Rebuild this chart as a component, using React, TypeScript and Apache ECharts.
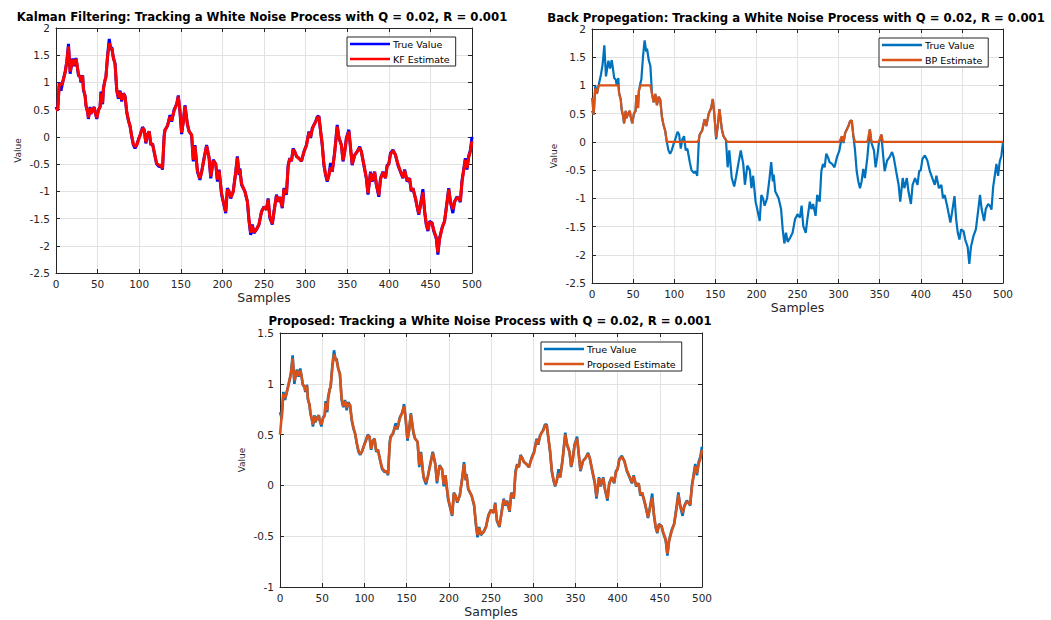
import React, { useEffect, useRef } from "react";
import * as echarts from "echarts";

// Sample index of every stored point (shared by all series).
const samples = [
  0, 2, 4, 6, 8, 11, 13, 15, 17, 19,
  20, 22, 24, 25, 27, 29, 30, 32, 33, 35,
  36, 38, 39, 41, 42, 44, 46, 47, 49, 51,
  53, 54, 56, 57, 59, 60, 62, 64, 66, 67,
  69, 71, 73, 75, 77, 79, 81, 83, 85, 87,
  89, 91, 93, 95, 97, 99, 101, 104, 106, 108,
  110, 112, 114, 116, 119, 121, 124, 126, 128, 130,
  131, 134, 137, 139, 142, 145, 147, 149, 151, 153,
  155, 158, 160, 163, 165, 167, 170, 173, 175, 178,
  181, 184, 186, 189, 192, 194, 196, 199, 201, 204,
  206, 208, 210, 213, 216, 218, 220, 221, 223, 227,
  230, 232, 234, 236, 238, 241, 244, 247, 250, 253,
  255, 257, 260, 262, 265, 267, 269, 272, 274, 277,
  279, 281, 283, 285, 287, 289, 292, 295, 298, 301,
  304, 306, 308, 310, 312, 314, 316, 318, 320, 322,
  324, 326, 328, 330, 332, 335, 338, 340, 343, 345,
  347, 349, 352, 354, 356, 359, 362, 365, 367, 370,
  373, 375, 378, 380, 383, 385, 388, 390, 393, 396,
  398, 400, 402, 405, 408, 411, 414, 417, 419, 422,
  425, 427, 429, 432, 434, 436, 438, 441, 443, 445,
  447, 449, 452, 454, 457, 459, 461, 464, 467, 470,
  472, 474, 477, 479, 482, 484, 486, 488, 490, 492,
  494, 496, 498, 500,
];

// White-noise driven random walk (true state), Q = 0.02, R = 0.001.
const trueValue = [
  0.55, 0.48, 1.0, 0.85, 1.0, 1.2, 1.38, 1.71, 1.16, 1.35,
  1.44, 1.3, 1.45, 1.35, 1.13, 1.1, 1.0, 1.13, 0.86, 0.75,
  0.58, 0.45, 0.33, 0.55, 0.42, 0.5, 0.55, 0.45, 0.33, 0.5,
  0.55, 0.83, 0.6, 0.9, 1.05, 1.1, 1.5, 1.8, 1.6, 1.65,
  1.45, 1.35, 0.85, 0.7, 0.85, 0.65, 0.8, 0.75, 0.45, 0.3,
  0.2, 0.0, -0.15, -0.21, -0.15, -0.05, 0.03, 0.18, 0.13, -0.12,
  0.05, 0.1, -0.15, -0.12, -0.36, -0.5, -0.55, -0.52, -0.6, 0.03,
  0.13, 0.2, 0.4, 0.28, 0.5, 0.6, 0.76, 0.46, 0.05, 0.28,
  0.58, 0.22, 0.1, 0.03, -0.45, -0.15, -0.64, -0.79, -0.64, -0.39,
  -0.15, -0.39, -0.76, -0.42, -0.5, -0.82, -0.6, -1.06, -1.19, -1.4,
  -0.94, -1.0, -1.13, -1.0, -0.64, -0.36, -0.7, -0.58, -0.88, -1.0,
  -1.19, -1.55, -1.8, -1.61, -1.77, -1.7, -1.61, -1.37, -1.28, -1.34,
  -1.13, -1.49, -1.61, -1.37, -1.06, -1.19, -1.1, -1.31, -0.94, -1.06,
  -0.52, -0.39, -0.45, -0.21, -0.27, -0.36, -0.39, -0.45, -0.27, -0.15,
  0.1, -0.02, 0.16, 0.22, 0.28, 0.37, 0.38, 0.1, -0.15, -0.52,
  -0.7, -0.82, -0.7, -0.48, -0.64, -0.27, 0.22, -0.02, -0.15, -0.45,
  -0.27, -0.02, 0.13, -0.21, -0.52, -0.33, -0.27, -0.18, -0.27, -0.52,
  -0.76, -1.06, -0.64, -0.82, -0.64, -0.88, -1.1, -0.76, -0.64, -0.76,
  -0.52, -0.5, -0.3, -0.24, -0.33, -0.52, -0.64, -0.76, -0.6, -0.82,
  -0.76, -1.0, -0.94, -1.13, -1.28, -1.43, -1.25, -0.96, -1.37, -1.61,
  -1.73, -1.55, -1.58, -1.73, -1.86, -2.16, -1.86, -1.67, -1.55, -1.19,
  -0.94, -1.19, -1.4, -1.19, -1.1, -1.13, -1.2, -0.8, -0.6, -0.39,
  -0.6, -0.35, -0.25, 0.0,
];

const kfEstimate = [
  0.5, 0.5, 0.98, 0.95, 1.0, 1.18, 1.38, 1.66, 1.2, 1.35,
  1.42, 1.32, 1.43, 1.36, 1.15, 1.1, 1.02, 1.12, 0.88, 0.76,
  0.58, 0.46, 0.35, 0.53, 0.43, 0.5, 0.54, 0.46, 0.35, 0.49,
  0.55, 0.8, 0.62, 0.88, 1.04, 1.1, 1.47, 1.72, 1.62, 1.63,
  1.45, 1.33, 0.88, 0.72, 0.83, 0.68, 0.79, 0.74, 0.47, 0.31,
  0.2, 0.02, -0.13, -0.18, -0.15, -0.06, 0.03, 0.16, 0.13, -0.1,
  0.04, 0.1, -0.13, -0.13, -0.34, -0.49, -0.52, -0.52, -0.58, 0.0,
  0.12, 0.21, 0.37, 0.3, 0.48, 0.6, 0.74, 0.48, 0.08, 0.27,
  0.56, 0.24, 0.1, 0.04, -0.42, -0.17, -0.62, -0.76, -0.65, -0.4,
  -0.17, -0.38, -0.73, -0.44, -0.5, -0.78, -0.62, -1.03, -1.18, -1.37,
  -0.97, -1.0, -1.11, -1.01, -0.66, -0.38, -0.68, -0.6, -0.86, -1.0,
  -1.18, -1.52, -1.76, -1.63, -1.75, -1.7, -1.6, -1.38, -1.29, -1.33,
  -1.15, -1.46, -1.59, -1.38, -1.08, -1.18, -1.11, -1.29, -0.96, -1.04,
  -0.55, -0.4, -0.44, -0.23, -0.28, -0.35, -0.4, -0.44, -0.28, -0.16,
  0.08, 0.0, 0.14, 0.22, 0.27, 0.35, 0.37, 0.12, -0.13, -0.5,
  -0.68, -0.8, -0.71, -0.56, -0.63, -0.29, 0.19, 0.0, -0.15, -0.43,
  -0.28, -0.04, 0.1, -0.19, -0.5, -0.34, -0.27, -0.2, -0.27, -0.5,
  -0.75, -1.03, -0.66, -0.8, -0.65, -0.86, -1.07, -0.78, -0.65, -0.75,
  -0.54, -0.5, -0.32, -0.25, -0.33, -0.5, -0.63, -0.75, -0.62, -0.8,
  -0.77, -0.98, -0.95, -1.12, -1.27, -1.41, -1.27, -1.02, -1.35, -1.59,
  -1.71, -1.57, -1.58, -1.71, -1.84, -2.12, -1.88, -1.68, -1.55, -1.22,
  -0.96, -1.17, -1.33, -1.2, -1.11, -1.13, -1.18, -0.83, -0.62, -0.42,
  -0.57, -0.38, -0.27, -0.08,
];

const bpEstimate = [
  0.78, 0.48, 0.95, 0.85, 1, 1, 1, 1, 1, 1,
  1, 1, 1, 1, 1, 1, 1, 1, 0.86, 0.75,
  0.58, 0.45, 0.33, 0.55, 0.42, 0.5, 0.55, 0.45, 0.33, 0.5,
  0.55, 0.83, 0.6, 0.9, 1, 1, 1, 1, 1, 1,
  1, 1, 0.85, 0.7, 0.85, 0.65, 0.8, 0.75, 0.45, 0.3,
  0.2, 0, 0, 0, 0, 0, 0, 0, 0, 0,
  0, 0, 0, 0, 0, 0, 0, 0, 0, 0.03,
  0.13, 0.2, 0.4, 0.28, 0.5, 0.6, 0.76, 0.46, 0.08, 0.28,
  0.58, 0.22, 0.1, 0.03, 0, 0, 0, 0, 0, 0,
  0, 0, 0, 0, 0, 0, 0, 0, 0, 0,
  0, 0, 0, 0, 0, 0, 0, 0, 0, 0,
  0, 0, 0, 0, 0, 0, 0, 0, 0, 0,
  0, 0, 0, 0, 0, 0, 0, 0, 0, 0,
  0, 0, 0, 0, 0, 0, 0, 0, 0, 0,
  0.1, 0, 0.16, 0.22, 0.28, 0.37, 0.38, 0.1, 0, 0,
  0, 0, 0, 0, 0, 0, 0.22, 0, 0, 0,
  0, 0, 0.13, 0, 0, 0, 0, 0, 0, 0,
  0, 0, 0, 0, 0, 0, 0, 0, 0, 0,
  0, 0, 0, 0, 0, 0, 0, 0, 0, 0,
  0, 0, 0, 0, 0, 0, 0, 0, 0, 0,
  0, 0, 0, 0, 0, 0, 0, 0, 0, 0,
  0, 0, 0, 0, 0, 0, 0, 0, 0, 0,
  0, 0, 0, 0,
];

const proposedTrue = [
  0.72, 0.66, 0.92, 0.84, 0.92, 1.02, 1.11, 1.28, 1.0, 1.1,
  1.14, 1.07, 1.15, 1.1, 0.99, 0.97, 0.92, 0.99, 0.85, 0.79,
  0.71, 0.64, 0.58, 0.69, 0.62, 0.67, 0.69, 0.64, 0.58, 0.67,
  0.69, 0.83, 0.72, 0.87, 0.95, 0.97, 1.18, 1.33, 1.23, 1.25,
  1.15, 1.1, 0.84, 0.77, 0.84, 0.74, 0.82, 0.79, 0.64, 0.56,
  0.51, 0.41, 0.33, 0.3, 0.33, 0.38, 0.43, 0.5, 0.48, 0.35,
  0.44, 0.46, 0.33, 0.35, 0.23, 0.16, 0.13, 0.14, 0.1, 0.43,
  0.48, 0.51, 0.61, 0.55, 0.67, 0.72, 0.8, 0.64, 0.44, 0.55,
  0.71, 0.52, 0.46, 0.43, 0.18, 0.33, 0.08, 0.01, 0.08, 0.21,
  0.33, 0.21, 0.02, 0.2, 0.16, -0.01, 0.1, -0.13, -0.2, -0.3,
  -0.07, -0.1, -0.17, -0.1, 0.08, 0.23, 0.05, 0.11, -0.04, -0.1,
  -0.2, -0.38, -0.51, -0.41, -0.49, -0.46, -0.41, -0.29, -0.24, -0.27,
  -0.17, -0.35, -0.41, -0.29, -0.13, -0.2, -0.15, -0.26, -0.07, -0.13,
  0.14, 0.21, 0.18, 0.3, 0.27, 0.23, 0.21, 0.18, 0.27, 0.33,
  0.46, 0.4, 0.49, 0.52, 0.55, 0.6, 0.6, 0.46, 0.33, 0.14,
  0.05, -0.01, 0.05, 0.16, 0.08, 0.27, 0.52, 0.4, 0.33, 0.18,
  0.27, 0.4, 0.48, 0.3, 0.14, 0.24, 0.27, 0.32, 0.27, 0.14,
  0.02, -0.13, 0.08, -0.01, 0.08, -0.04, -0.15, 0.02, 0.08, 0.02,
  0.14, 0.16, 0.26, 0.29, 0.24, 0.14, 0.08, 0.02, 0.1, -0.01,
  0.02, -0.1, -0.07, -0.17, -0.24, -0.32, -0.23, -0.08, -0.29, -0.41,
  -0.47, -0.38, -0.4, -0.47, -0.54, -0.69, -0.54, -0.44, -0.38, -0.2,
  -0.07, -0.2, -0.3, -0.2, -0.15, -0.17, -0.2, 0.0, 0.1, 0.21,
  0.1, 0.23, 0.28, 0.38,
];

const proposedEstimate = [
  0.5, 0.68, 0.9, 0.86, 0.91, 1.03, 1.1, 1.25, 1.03, 1.09,
  1.13, 1.08, 1.13, 1.1, 1.0, 0.97, 0.93, 0.98, 0.86, 0.79,
  0.72, 0.64, 0.6, 0.68, 0.63, 0.66, 0.69, 0.64, 0.6, 0.66,
  0.69, 0.81, 0.74, 0.85, 0.95, 0.97, 1.16, 1.29, 1.24, 1.23,
  1.15, 1.09, 0.86, 0.78, 0.83, 0.76, 0.81, 0.79, 0.65, 0.57,
  0.51, 0.42, 0.34, 0.31, 0.33, 0.38, 0.42, 0.49, 0.48, 0.36,
  0.43, 0.46, 0.34, 0.35, 0.24, 0.17, 0.14, 0.14, 0.11, 0.4,
  0.47, 0.52, 0.58, 0.56, 0.66, 0.72, 0.78, 0.65, 0.46, 0.54,
  0.7, 0.53, 0.46, 0.43, 0.2, 0.32, 0.09, 0.03, 0.08, 0.2,
  0.32, 0.21, 0.04, 0.19, 0.16, 0.01, 0.1, -0.11, -0.19, -0.29,
  -0.08, -0.1, -0.16, -0.1, 0.07, 0.21, 0.06, 0.1, -0.03, -0.1,
  -0.19, -0.36, -0.49, -0.42, -0.48, -0.46, -0.41, -0.3, -0.24, -0.27,
  -0.18, -0.34, -0.4, -0.3, -0.14, -0.19, -0.16, -0.25, -0.08, -0.12,
  0.12, 0.2, 0.18, 0.29, 0.27, 0.23, 0.21, 0.18, 0.26, 0.32,
  0.45, 0.41, 0.48, 0.52, 0.54, 0.59, 0.59, 0.47, 0.34, 0.15,
  0.06, 0.0, 0.05, 0.12, 0.08, 0.26, 0.5, 0.41, 0.33, 0.19,
  0.26, 0.39, 0.46, 0.31, 0.15, 0.24, 0.27, 0.31, 0.27, 0.15,
  0.03, -0.11, 0.07, 0.0, 0.07, -0.03, -0.13, 0.01, 0.08, 0.03,
  0.13, 0.16, 0.25, 0.28, 0.24, 0.15, 0.09, 0.03, 0.09, 0.0,
  0.02, -0.09, -0.07, -0.16, -0.23, -0.31, -0.24, -0.12, -0.28, -0.4,
  -0.46, -0.39, -0.4, -0.46, -0.53, -0.67, -0.55, -0.45, -0.38, -0.22,
  -0.09, -0.19, -0.27, -0.21, -0.16, -0.17, -0.19, -0.02, 0.09, 0.19,
  0.12, 0.21, 0.26, 0.35,
];

// Axis ranges
const sampleAxis = { min: 0, max: 500, interval: 50 };
const wideValueAxis = { min: -2.5, max: 2, interval: 0.5 };
const proposedValueAxis = { min: -1, max: 1.5, interval: 0.5 };

const titles = [
  "Kalman Filtering: Tracking a White Noise Process with Q = 0.02, R = 0.001",
  "Back Propegation: Tracking a White Noise Process with Q = 0.02, R = 0.001",
  "Proposed: Tracking a White Noise Process with Q = 0.02, R = 0.001",
];

const FONT = "DejaVu Sans";
const AXIS_COLOR = "#262626";
const GRID_COLOR = "#e2e2e2";
const BLUE = "#0072BD";
const ORANGE = "#D95319";

const pairs = (values: number[]) => samples.map((s, i) => [s, values[i]]);

function axesFor(gridIndex: number, yRange: { min: number; max: number; interval: number }) {
  const line = { show: true, onZero: false, lineStyle: { color: AXIS_COLOR, width: 1 } };
  const tick = { show: true, inside: true, length: 4, lineStyle: { color: AXIS_COLOR } };
  const label = { color: AXIS_COLOR, fontSize: 10.5, fontFamily: FONT };
  const split = { show: true, lineStyle: { color: GRID_COLOR, width: 1 } };
  const x = [
    {
      type: "value", gridIndex, ...sampleAxis, position: "bottom",
      axisLine: line, axisTick: tick, splitLine: split,
      axisLabel: { ...label, margin: 5 },
      name: "Samples", nameLocation: "middle", nameGap: 18,
      nameTextStyle: { color: AXIS_COLOR, fontSize: 12.5, fontFamily: FONT },
    },
    {
      type: "value", gridIndex, ...sampleAxis, position: "top",
      axisLine: line, axisTick: tick, splitLine: { show: false },
      axisLabel: { show: false },
    },
  ];
  const y = [
    {
      type: "value", gridIndex, ...yRange, position: "left",
      axisLine: line, axisTick: tick, splitLine: split,
      axisLabel: { ...label, margin: 6 },
      name: "Value", nameLocation: "middle", nameGap: 34,
      nameTextStyle: { color: AXIS_COLOR, fontSize: 9, fontFamily: FONT },
    },
    {
      type: "value", gridIndex, ...yRange, position: "right",
      axisLine: line, axisTick: tick, splitLine: { show: false },
      axisLabel: { show: false },
    },
  ];
  return { x, y };
}

function lineSeries(name: string, values: number[], axis: number, color: string, width: number) {
  return {
    type: "line", name, data: pairs(values),
    xAxisIndex: axis, yAxisIndex: axis,
    showSymbol: false, symbol: "none",
    lineStyle: { color, width }, itemStyle: { color },
    emphasis: { disabled: true },
  };
}

function legendFor(left: number, top: number, items: { name: string; color: string; thickness: number }[]) {
  return {
    left, top, orient: "vertical", selectedMode: false,
    itemWidth: 40, itemHeight: 2.5, itemGap: 3,
    padding: [1, 6, 1, 3],
    borderColor: AXIS_COLOR, borderWidth: 1, backgroundColor: "#ffffff",
    textStyle: { fontSize: 9.5, color: "#000", fontFamily: FONT, padding: [0, 0, 0, -2], lineHeight: 12 },
    data: items.map((it) => ({
      name: it.name, icon: "rect", itemHeight: it.thickness,
      itemStyle: { color: it.color, borderWidth: 0 },
    })),
  };
}

export default function App() {
  const ref = useRef<HTMLDivElement>(null);

  useEffect(() => {
    if (!ref.current) return;
    const chart = echarts.init(ref.current, undefined, { renderer: "svg" });

    const a0 = axesFor(0, wideValueAxis);
    const a1 = axesFor(1, wideValueAxis);
    const a2 = axesFor(2, proposedValueAxis);

    chart.setOption({
      animation: false,
      backgroundColor: "#ffffff",
      title: [
        { text: titles[0], left: 262, top: 11, textAlign: "center", padding: 0 },
        { text: titles[1], left: 796, top: 12, textAlign: "center", padding: 0 },
        { text: titles[2], left: 490, top: 315, textAlign: "center", padding: 0 },
      ].map((t) => ({
        ...t,
        textStyle: { fontSize: 11.7, fontWeight: "bold", color: "#000", fontFamily: FONT },
      })),
      grid: [
        { left: 56, top: 28, width: 416, height: 245 },
        { left: 592, top: 29, width: 411, height: 254 },
        { left: 280, top: 333, width: 422, height: 254 },
      ],
      xAxis: [...a0.x, ...a1.x, ...a2.x],
      yAxis: [...a0.y, ...a1.y, ...a2.y],
      legend: [
        legendFor(347, 37, [
          { name: "True Value", color: "#0000FF", thickness: 2.5 },
          { name: "KF Estimate", color: "#FF0000", thickness: 2.5 },
        ]),
        legendFor(879, 38, [
          { name: "True Value", color: BLUE, thickness: 2 },
          { name: "BP Estimate", color: ORANGE, thickness: 2 },
        ]),
        legendFor(541, 342, [
          { name: "True Value", color: BLUE, thickness: 2 },
          { name: "Proposed Estimate", color: ORANGE, thickness: 2 },
        ]),
      ],
      series: [
        lineSeries("True Value", trueValue, 0, "#0000FF", 3),
        lineSeries("KF Estimate", kfEstimate, 0, "#FF0000", 3),
        lineSeries("True Value", trueValue, 2, BLUE, 2.2),
        lineSeries("BP Estimate", bpEstimate, 2, ORANGE, 2.2),
        lineSeries("True Value", proposedTrue, 4, BLUE, 2.6),
        lineSeries("Proposed Estimate", proposedEstimate, 4, ORANGE, 2.6),
      ],
    });

    return () => chart.dispose();
  }, []);

  return (
    <div
      ref={ref}
      style={{ position: "fixed", left: 0, top: 0, width: 1051, height: 620, background: "#fff" }}
    />
  );
}
